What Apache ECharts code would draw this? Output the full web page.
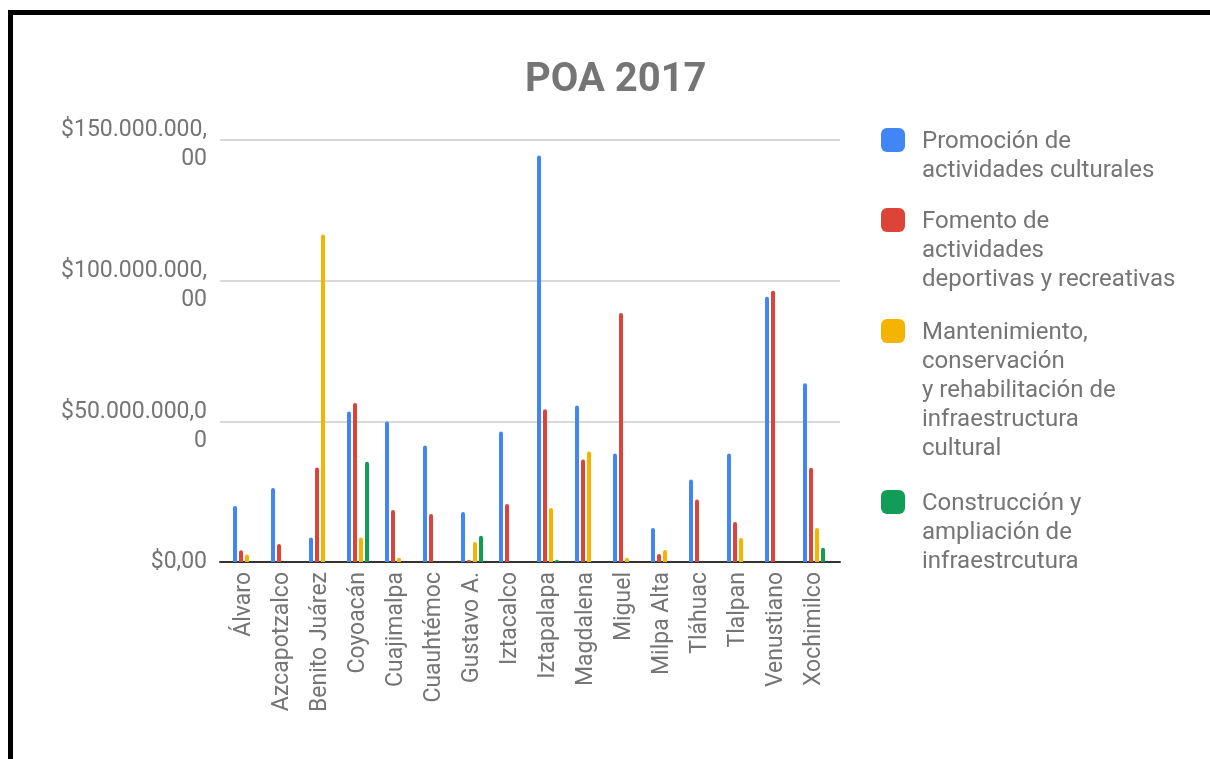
<!DOCTYPE html>
<html>
<head>
<meta charset="utf-8">
<title>POA 2017</title>
<script src="https://cdn.jsdelivr.net/npm/echarts@6/dist/echarts.min.js"></script>
<style>
  html, body { margin: 0; padding: 0; background: #ffffff; }
  #chart { width: 1210px; height: 759px; }
</style>
</head>
<body>
<div id="chart"></div>
<script>
// Alcaldías (categories)
const categories = ['Álvaro', 'Azcapotzalco', 'Benito Juárez', 'Coyoacán', 'Cuajimalpa', 'Cuauhtémoc',
  'Gustavo A.', 'Iztacalco', 'Iztapalapa', 'Magdalena', 'Miguel', 'Milpa Alta', 'Tláhuac', 'Tlalpan',
  'Venustiano', 'Xochimilco'];

// Series names (as shown in the legend)
const seriesNames = [
  'Promoción de\nactividades culturales',
  'Fomento de\nactividades\ndeportivas y recreativas',
  'Mantenimiento,\nconservación\ny rehabilitación de\ninfraestructura\ncultural',
  'Construcción y\nampliación de\ninfraestrcutura'
];

// Amounts in millions of pesos
const promocion = [19.9, 26.3, 8.7, 53.5, 49.9, 41.4, 17.8, 46.4, 144.5, 55.6, 38.6, 12.1, 29.3, 38.6, 94.3, 63.5];
const fomento = [4.2, 6.4, 33.6, 56.5, 18.5, 17.1, 0.8, 20.6, 54.3, 36.4, 88.5, 2.8, 22.2, 14.2, 96.4, 33.5];
const mantenimiento = [2.7, null, 116.4, 8.7, 1.5, null, 7.1, null, 19.2, 39.3, 1.5, 4.3, null, 8.5, null, 12.1];
const construccion = [null, null, null, 35.6, null, null, 9.3, null, 0.8, null, null, null, null, null, null, 5.1];

// Y axis ticks (millions) and their labels
const yTicks = [0, 50, 100, 150];
const yTickLabels = ['$0,00', '$50.000.000,0\n0', '$100.000.000,\n00', '$150.000.000,\n00'];

const colors = ['#4285F4', '#DB4437', '#F4B400', '#0F9D58'];
const seriesData = [promocion, fomento, mantenimiento, construccion];

const FONT = 'Roboto, "Noto Sans", Arial, sans-serif';
const GRAY = '#757575';

const chart = echarts.init(document.getElementById('chart'), null, { renderer: 'canvas' });

// Legend: one block per series; leading blank lines put the first text line
// level with the colour square, rich padding sets the gap after the square.
const LINE_H = 29;
const iconTops = [128, 208, 319, 490];
const legends = seriesNames.map((name, i) => {
  const n = name.split('\n').length;
  return {
    left: 881,
    top: iconTops[i] + 12 - (2 * n - 1) * LINE_H / 2,
    padding: 0,
    orient: 'vertical',
    itemWidth: 24,
    itemHeight: 24,
    icon: 'roundRect',
    selectedMode: false,
    data: [name],
    formatter: label => '\n'.repeat(n - 1) + label.split('\n').map(s => '{t|' + s + '}').join('\n'),
    textStyle: {
      color: GRAY,
      fontFamily: FONT,
      fontSize: 24,
      lineHeight: LINE_H,
      rich: {
        t: { color: GRAY, fontFamily: FONT, fontSize: 24, lineHeight: LINE_H, padding: [4, 0, 0, 12] }
      }
    }
  };
});

// Wrapped value labels sit a little below their gridline
function yLabel(v) {
  const s = yTickLabels[yTicks.indexOf(v)];
  if (s.indexOf('\n') < 0) return s;
  return s.split('\n').map(part => '{m|' + part + '}').join('\n');
}

const option = {
  backgroundColor: '#ffffff',
  animation: false,
  title: {
    text: 'POA 2017',
    left: 520,
    top: 56,
    textStyle: { color: GRAY, fontFamily: FONT, fontSize: 40, fontWeight: 'bold' }
  },
  legend: legends,
  graphic: [
    { type: 'rect', shape: { x: 8, y: 10, width: 1202, height: 5 }, style: { fill: '#000' } },
    { type: 'rect', shape: { x: 8, y: 10, width: 5, height: 749 }, style: { fill: '#000' } }
  ],
  grid: [
    // frame for gridlines, value labels and baseline
    { left: 220, right: 370, top: 140, bottom: 197 },
    // bar area
    { left: 225, right: 377, top: 140, bottom: 197 }
  ],
  xAxis: [
    {
      gridIndex: 0, type: 'category', data: categories,
      axisLine: { show: true, lineStyle: { color: '#333333', width: 2 } },
      axisTick: { show: false }, axisLabel: { show: false }, splitLine: { show: false }
    },
    {
      gridIndex: 1, type: 'category', data: categories,
      axisLine: { show: false }, axisTick: { show: false },
      axisLabel: {
        rotate: 90, interval: 0, margin: 10,
        color: GRAY, fontFamily: FONT, fontSize: 23
      }
    }
  ],
  yAxis: [
    {
      gridIndex: 0, type: 'value', min: 0, max: 150, interval: 50,
      axisLine: { show: false }, axisTick: { show: false },
      splitLine: { lineStyle: { color: '#cccccc', width: 1.5 } },
      axisLabel: {
        margin: 13, color: GRAY, fontFamily: FONT, fontSize: 23, lineHeight: 29, align: 'right',
        formatter: yLabel,
        rich: {
          m: { color: GRAY, fontFamily: FONT, fontSize: 23, lineHeight: 29, padding: [10, 0, 0, 0] }
        }
      }
    },
    { gridIndex: 1, type: 'value', min: 0, max: 150, interval: 50, show: false }
  ],
  series: seriesData.map((data, i) => ({
    name: seriesNames[i],
    type: 'bar',
    xAxisIndex: 1,
    yAxisIndex: 1,
    data: data,
    barWidth: 4,
    barGap: '50%',
    itemStyle: { color: colors[i], borderRadius: [2, 2, 0, 0] }
  }))
};

chart.setOption(option);
</script>
</body>
</html>
